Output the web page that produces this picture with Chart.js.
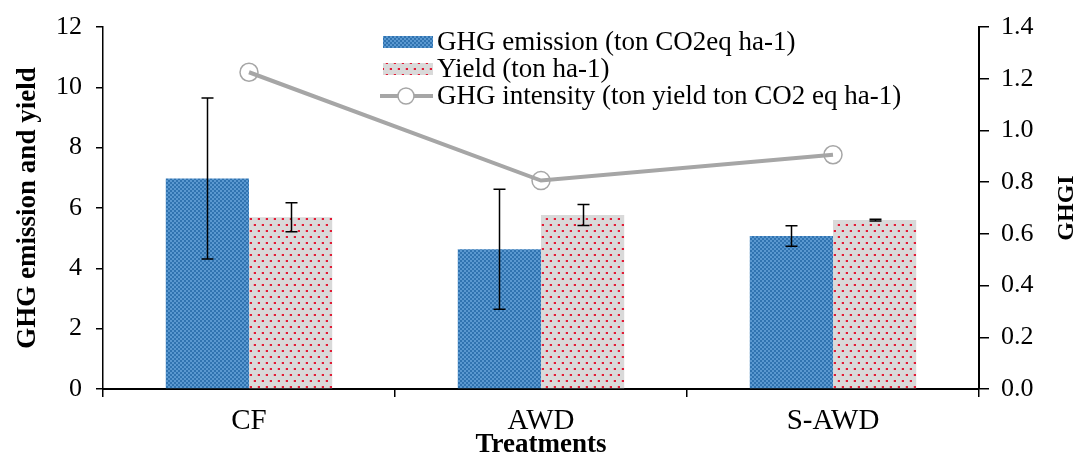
<!DOCTYPE html>
<html>
<head>
<meta charset="utf-8">
<script src="https://cdn.jsdelivr.net/npm/chart.js@4/dist/chart.umd.min.js"></script>
<style>
  html, body { margin: 0; padding: 0; background: #fff; }
  #wrap { width: 1081px; height: 454px; }
</style>
</head>
<body>
<div id="wrap"><canvas id="chart"></canvas></div>
<script>
const treatments = ['CF', 'AWD', 'S-AWD'];
const ghgEmission = [6.98, 4.63, 5.07];
const ghgEmissionErr = [2.67, 1.99, 0.34];
const yieldValues = [5.69, 5.77, 5.60];
const yieldErr = [0.48, 0.35, 0.03];
const ghgIntensity = [1.225, 0.806, 0.906];

const serif = '"Liberation Serif", "Times New Roman", serif';

// blue checker fill for the emission bars
function checkerPattern() {
    const c = document.createElement('canvas');
    c.width = 4; c.height = 4;
    const g = c.getContext('2d');
    g.fillStyle = '#5a98d0';
    g.fillRect(0, 0, 4, 4);
    g.fillStyle = '#3073b0';
    g.fillRect(0, 0, 2, 2);
    g.fillRect(2, 2, 2, 2);
    return g.createPattern(c, 'repeat');
}

// staggered red dots on light grey for the yield bars
function dotPattern() {
    const c = document.createElement('canvas');
    c.width = 8; c.height = 12;
    const g = c.getContext('2d');
    g.fillStyle = '#d9d9d9';
    g.fillRect(0, 0, 8, 12);
    g.fillStyle = '#e7aab2';
    g.fillRect(1, 2, 1, 2);
    g.fillRect(5, 8, 1, 2);
    g.fillStyle = '#e01b35';
    g.fillRect(2, 2, 2, 2);
    g.fillRect(6, 8, 2, 2);
    return g.createPattern(c, 'repeat');
}

const blueFill = checkerPattern();
const dotFill = dotPattern();

const errorBars = {
    id: 'errorBars',
    afterDatasetsDraw(chart) {
        const ctx = chart.ctx;
        const y = chart.scales.y;
        const sets = [[1, ghgEmission, ghgEmissionErr], [2, yieldValues, yieldErr]];
        ctx.save();
        ctx.strokeStyle = '#000';
        ctx.lineWidth = 1.5;
        sets.forEach(([idx, vals, errs]) => {
            const meta = chart.getDatasetMeta(idx);
            meta.data.forEach((bar, i) => {
                const x = Math.round(bar.x) + 0.5;
                const top = y.getPixelForValue(vals[i] + errs[i]);
                const bottom = y.getPixelForValue(vals[i] - errs[i]);
                ctx.beginPath();
                ctx.moveTo(x, top); ctx.lineTo(x, bottom);
                ctx.moveTo(x - 6, top); ctx.lineTo(x + 6, top);
                ctx.moveTo(x - 6, bottom); ctx.lineTo(x + 6, bottom);
                ctx.stroke();
            });
        });
        ctx.restore();
    }
};

// legend block inside the plot plus the right-hand axis title
const legendBox = {
    id: 'legendBox',
    afterDraw(chart) {
        const ctx = chart.ctx;
        const x0 = 383, sw = 50;
        ctx.save();
        ctx.font = '27px ' + serif;
        ctx.textBaseline = 'middle';

        ctx.fillStyle = blueFill;
        ctx.fillRect(x0, 36, sw, 12);
        ctx.fillStyle = '#000';
        ctx.fillText('GHG emission (ton CO2eq ha-1)', x0 + 54, 43);

        ctx.fillStyle = dotFill;
        ctx.fillRect(x0, 63, sw, 12);
        ctx.fillStyle = '#000';
        ctx.fillText('Yield (ton ha-1)', x0 + 54, 70);

        ctx.strokeStyle = '#a6a6a6';
        ctx.lineWidth = 4;
        ctx.beginPath();
        ctx.moveTo(x0 - 3, 96); ctx.lineTo(x0 + sw, 96);
        ctx.stroke();
        ctx.lineWidth = 1.5;
        ctx.beginPath();
        ctx.arc(x0 + 23, 96, 8, 0, Math.PI * 2);
        ctx.fillStyle = '#fff';
        ctx.fill();
        ctx.stroke();
        ctx.fillStyle = '#000';
        ctx.fillText('GHG intensity (ton yield ton CO2 eq ha-1)', x0 + 54, 97);

        const area = chart.chartArea;
        ctx.translate(1067, (area.top + area.bottom) / 2);
        ctx.rotate(-Math.PI / 2);
        ctx.textAlign = 'center';
        ctx.font = 'bold 24px ' + serif;
        ctx.fillText('GHGI', 0, 0);
        ctx.restore();
    }
};

new Chart(document.getElementById('chart'), {
    data: {
        labels: treatments,
        datasets: [
            {
                type: 'line',
                label: 'GHG intensity (ton yield ton CO2 eq ha-1)',
                data: ghgIntensity,
                yAxisID: 'y1',
                borderColor: '#a6a6a6',
                borderWidth: 4,
                pointRadius: 9,
                pointBorderWidth: 1.5,
                pointBorderColor: '#a6a6a6',
                pointBackgroundColor: 'rgba(0,0,0,0)',
                order: 0
            },
            {
                type: 'bar',
                label: 'GHG emission (ton CO2eq ha-1)',
                data: ghgEmission,
                yAxisID: 'y',
                backgroundColor: blueFill,
                categoryPercentage: 0.57,
                barPercentage: 1.0,
                order: 1
            },
            {
                type: 'bar',
                label: 'Yield (ton ha-1)',
                data: yieldValues,
                yAxisID: 'y',
                backgroundColor: dotFill,
                categoryPercentage: 0.57,
                barPercentage: 1.0,
                order: 1
            }
        ]
    },
    options: {
        responsive: true,
        maintainAspectRatio: false,
        animation: false,
        layout: { padding: { top: 27, left: 0, right: 0, bottom: 0 } },
        plugins: {
            legend: { display: false },
            tooltip: { enabled: false }
        },
        scales: {
            x: {
                offset: true,
                grid: {
                    offset: true,
                    drawOnChartArea: false,
                    color: '#000',
                    tickLength: 8,
                    lineWidth: 1.5
                },
                border: { color: '#000', width: 2 },
                ticks: { color: '#000', font: { family: serif, size: 29 }, padding: 7 },
                title: {
                    display: true,
                    text: 'Treatments',
                    color: '#000',
                    font: { family: serif, size: 27, weight: 'bold' },
                    padding: { top: -14, bottom: -7 }
                },
                afterFit(axis) { axis.height = 65; }
            },
            y: {
                position: 'left',
                min: 0,
                max: 12,
                ticks: { stepSize: 2, color: '#000', font: { family: serif, size: 26 }, padding: 14 },
                grid: { drawOnChartArea: false, color: '#000', tickLength: 7, lineWidth: 1.5 },
                border: { color: '#000', width: 1.5 },
                title: {
                    display: true,
                    text: 'GHG emission and yield',
                    color: '#000',
                    font: { family: serif, size: 27, weight: 'bold' },
                    padding: { top: 12, bottom: 0 }
                },
                afterFit(axis) {
                    axis.width = 103;
                    axis.paddingTop = 0;
                    axis.paddingBottom = 0;
                }
            },
            y1: {
                position: 'right',
                min: 0,
                max: 1.4,
                ticks: {
                    stepSize: 0.2,
                    color: '#000',
                    font: { family: serif, size: 26 },
                    padding: 12,
                    callback: v => v.toFixed(1)
                },
                grid: { drawOnChartArea: false, color: '#000', tickLength: 10, lineWidth: 1.5 },
                border: { color: '#000', width: 2 },
                afterFit(axis) {
                    axis.width = 102;
                    axis.paddingTop = 0;
                    axis.paddingBottom = 0;
                }
            }
        }
    },
    plugins: [errorBars, legendBox]
});
</script>
</body>
</html>
